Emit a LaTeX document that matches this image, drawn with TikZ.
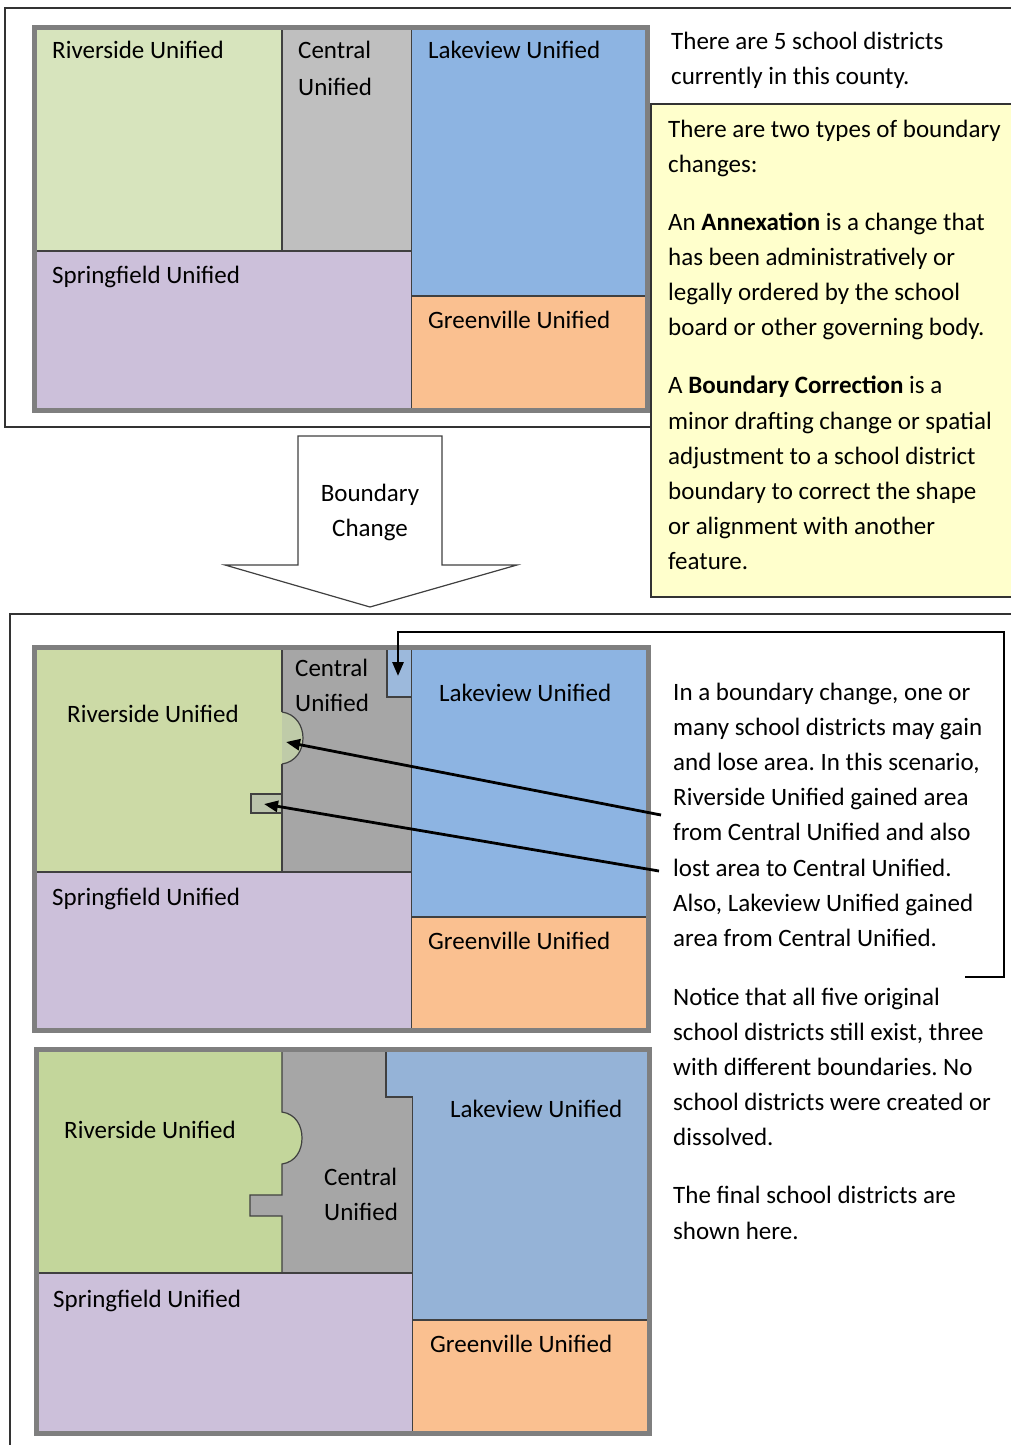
\documentclass[tikz,border=0pt]{standalone}
\usepackage{fontspec}
\setmainfont{Carlito}
\usetikzlibrary{arrows.meta}
\frenchspacing

\definecolor{mapgray}{HTML}{7F7F7F}
\definecolor{riverA}{HTML}{D7E4BD}
\definecolor{riverB}{HTML}{CCDAA6}
\definecolor{riverC}{HTML}{C3D69B}
\definecolor{centralA}{HTML}{BFBFBF}
\definecolor{centralB}{HTML}{A6A6A6}
\definecolor{lakeA}{HTML}{8DB4E2}
\definecolor{lakeC}{HTML}{95B3D7}
\definecolor{lakegain}{HTML}{9CB9DC}
\definecolor{springA}{HTML}{CCC0DA}
\definecolor{greenA}{HTML}{FAC090}
\definecolor{gainfill}{HTML}{BFCBA8}
\definecolor{lossfill}{HTML}{BAC3AB}
\definecolor{notefill}{HTML}{FFFFCC}

\tikzset{
  txt/.style={anchor=base west, inner sep=0pt, font=\fontsize{25}{30}\selectfont},
  ctxt/.style={anchor=base, inner sep=0pt, font=\fontsize{25}{30}\selectfont},
  edge line/.style={draw=black!75, line width=1.2pt},
  map frame/.style={draw=mapgray, line width=5pt},
  frame line/.style={draw=black!80, line width=1.3pt},
  callout/.style={line width=2.8pt, -{Triangle[length=14pt,width=11pt]}},
}

\begin{document}
\begin{tikzpicture}[x=1pt, y=-1pt]
        \useasboundingbox (0,0) rectangle (1011,1445);

        % top panel: current districts
        \draw [frame line] (1012,8) -- (5,8) -- (5,427) -- (651,427);
        \fill [riverA] (34,27.5) rectangle (282,251);
        \fill [centralA] (282,27.5) rectangle (411.5,251);
        \fill [lakeA] (411.5,27.5) rectangle (647.5,296);
        \fill [springA] (34,251) rectangle (411.5,410.5);
        \fill [greenA] (411.5,296) rectangle (647.5,410.5);
        \draw [edge line] (282,27.5) -- (282,251);
        \draw [edge line] (34,251) -- (411.5,251);
        \draw [edge line] (411.5,27.5) -- (411.5,410.5);
        \draw [edge line] (411.5,296) -- (647.5,296);
        \draw [map frame] (34,27.5) rectangle (647.5,410.5);

        \node [txt] (rivA) at (52, 59) {Riverside Unified};
        \node [txt] (cenA1) at (298, 59) {Central};
        \node [txt] (cenA2) at (298, 95) {Unified};
        \node [txt] (lakA) at (428, 59) {Lakeview Unified};
        \node [txt] (sprA) at (52, 283) {Springfield Unified};
        \node [txt] (greA) at (428, 328) {Greenville Unified};

        \node [txt] (intro1) at (671, 49) {There are 5 school districts};
        \node [txt] (intro2) at (671, 84.2) {currently in this county.};

        % note on the two kinds of change
        \draw [frame line, fill=notefill] (1012,104) -- (651,104) -- (651,597) -- (1012,597);
        \node [txt] (kind1) at (668, 137) {There are two types of boundary};
        \node [txt] (kind2) at (668, 172.2) {changes:};
        \node [txt] (annex1) at (668, 230.2) {An \textbf{Annexation} is a change that};
        \node [txt] (annex2) at (668, 265.4) {has been administratively or};
        \node [txt] (annex3) at (668, 300.6) {legally ordered by the school};
        \node [txt] (annex4) at (668, 335.8) {board or other governing body.};
        \node [txt] (corr1) at (668, 393.8) {A \textbf{Boundary Correction} is a};
        \node [txt] (corr2) at (668, 429) {minor drafting change or spatial};
        \node [txt] (corr3) at (668, 464.2) {adjustment to a school district};
        \node [txt] (corr4) at (668, 499.4) {boundary to correct the shape};
        \node [txt] (corr5) at (668, 534.6) {or alignment with another};
        \node [txt] (corr6) at (668, 569.8) {feature.};

        % block arrow
        \draw [edge line, fill=white] (298,565) -- (298,436) -- (442,436) -- (442,565)
              -- (517,565) -- (370,607) -- (225,565) -- cycle;
        \node [ctxt] (chg1) at (370, 501) {Boundary};
        \node [ctxt] (chg2) at (370, 536) {Change};

        % lower panel
        \draw [frame line] (1012,614) -- (10,614) -- (10,1446);

        % middle map: the change
        \fill [riverB] (34,647.5) rectangle (282,872);
        \fill [centralB] (282,647.5) rectangle (411.5,872);
        \fill [lakeA] (411.5,647.5) rectangle (648,917);
        \fill [springA] (34,872) rectangle (411.5,1030.5);
        \fill [greenA] (411.5,917) rectangle (648,1030.5);
        \fill [lakegain] (387,647.5) rectangle (411.5,697);
        \draw [edge line, fill=gainfill] (282,712) .. controls (296,714) and (303,726) .. (303,738)
              .. controls (303,750) and (296,762) .. (282,764);
        \draw [edge line, fill=lossfill] (251,794) rectangle (282,813);
        \draw [edge line] (282,647.5) -- (282,712);
        \draw [edge line] (282,764) -- (282,872);
        \draw [edge line] (34,872) -- (411.5,872);
        \draw [edge line] (411.5,647.5) -- (411.5,1030.5);
        \draw [edge line] (411.5,917) -- (648,917);
        \draw [edge line] (387,647.5) -- (387,697) -- (411.5,697);
        \draw [map frame] (34,647.5) rectangle (648,1030.5);

        \node [txt] (rivB) at (67, 722) {Riverside Unified};
        \node [txt] (cenB1) at (295, 676) {Central};
        \node [txt] (cenB2) at (295, 711) {Unified};
        \node [txt] (lakB) at (439, 701) {Lakeview Unified};
        \node [txt] (sprB) at (52, 905) {Springfield Unified};
        \node [txt] (greB) at (428, 949) {Greenville Unified};

        \node [txt] (expl1) at (673, 700) {In a boundary change, one or};
        \node [txt] (expl2) at (673, 735.2) {many school districts may gain};
        \node [txt] (expl3) at (673, 770.4) {and lose area. In this scenario,};
        \node [txt] (expl4) at (673, 805.6) {Riverside Unified gained area};
        \node [txt] (expl5) at (673, 840.8) {from Central Unified and also};
        \node [txt] (expl6) at (673, 876) {lost area to Central Unified.};
        \node [txt] (expl7) at (673, 911.2) {Also, Lakeview Unified gained};
        \node [txt] (expl8) at (673, 946.4) {area from Central Unified.};

        \node [txt] (note1) at (673, 1005) {Notice that all five original};
        \node [txt] (note2) at (673, 1040.2) {school districts still exist, three};
        \node [txt] (note3) at (673, 1075.4) {with different boundaries. No};
        \node [txt] (note4) at (673, 1110.6) {school districts were created or};
        \node [txt] (note5) at (673, 1145.8) {dissolved.};
        \node [txt] (final1) at (673, 1203.8) {The final school districts are};
        \node [txt] (final2) at (673, 1239) {shown here.};

        % callouts from the text
        \coordinate (gainEnd) at (661,815);
        \coordinate (gainTip) at (286,742);
        \coordinate (lossEnd) at (659,871);
        \coordinate (lossTip) at (264,804);
        \coordinate (brkA) at (965,977);
        \coordinate (brkB) at (1004,977);
        \coordinate (brkC) at (1004,632);
        \coordinate (brkD) at (398,632);
        \coordinate (lakeTip) at (398,676);
        \draw [callout] (gainEnd) -- (gainTip);
        \draw [callout] (lossEnd) -- (lossTip);
        \draw [callout] (brkA) -- (brkB) -- (brkC) -- (brkD) -- (lakeTip);

        % bottom map: the result
        \fill [centralB] (250,1049.5) rectangle (412.5,1273);
        \fill [springA] (36,1273) rectangle (412.5,1433);
        \fill [greenA] (412.5,1320) rectangle (649,1433);
        \fill [lakeC] (386,1049.5) -- (649,1049.5) -- (649,1320) -- (412.5,1320)
              -- (412.5,1097) -- (386,1097) -- cycle;
        \fill [riverC] (36,1049.5) -- (282,1049.5) -- (282,1112)
              .. controls (296,1114) and (302,1126) .. (302,1138)
              .. controls (302,1150) and (296,1162) .. (282,1164)
              -- (282,1195) -- (250,1195) -- (250,1216) -- (282,1216)
              -- (282,1273) -- (36,1273) -- cycle;
        \draw [edge line] (282,1049.5) -- (282,1112)
              .. controls (296,1114) and (302,1126) .. (302,1138)
              .. controls (302,1150) and (296,1162) .. (282,1164)
              -- (282,1195) -- (250,1195) -- (250,1216) -- (282,1216) -- (282,1273);
        \draw [edge line] (36,1273) -- (412.5,1273);
        \draw [edge line] (386,1049.5) -- (386,1097) -- (412.5,1097) -- (412.5,1433);
        \draw [edge line] (412.5,1320) -- (649,1320);
        \draw [map frame] (36,1049.5) rectangle (649,1433);

        \node [txt] (rivC) at (64, 1138) {Riverside Unified};
        \node [txt] (cenC1) at (324, 1185) {Central};
        \node [txt] (cenC2) at (324, 1220) {Unified};
        \node [txt] (lakC) at (450, 1117) {Lakeview Unified};
        \node [txt] (sprC) at (53, 1307) {Springfield Unified};
        \node [txt] (greC) at (430, 1352) {Greenville Unified};
      \end{tikzpicture}
\end{document}
